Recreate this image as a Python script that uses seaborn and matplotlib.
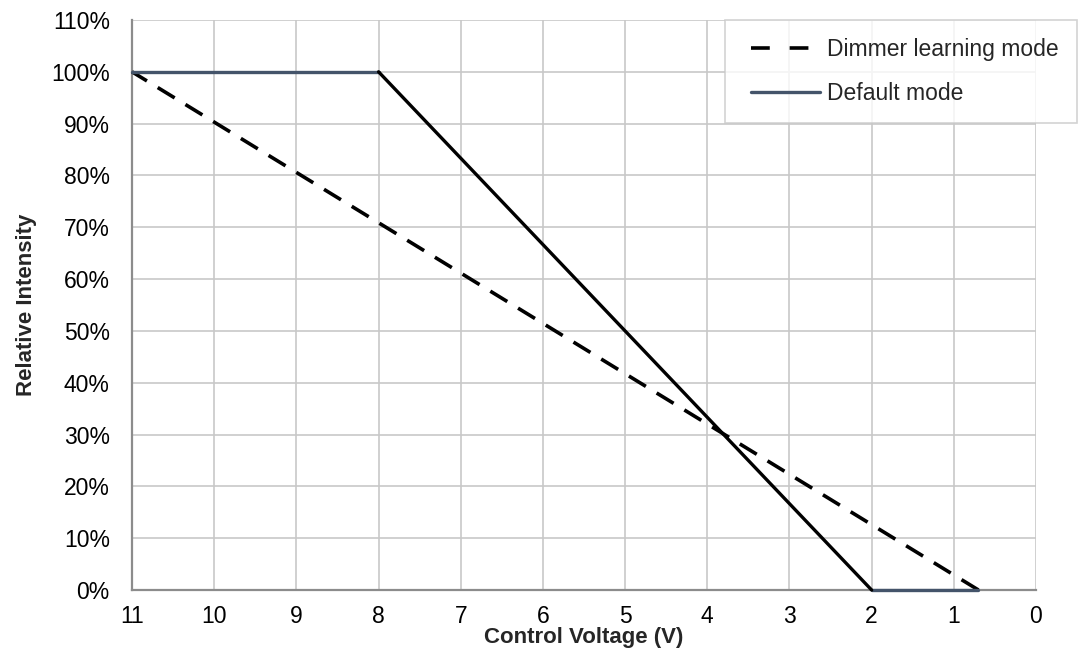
import matplotlib
matplotlib.use("Agg")
import matplotlib.pyplot as plt
import numpy as np
import pandas as pd
import seaborn as sns
from matplotlib.legend_handler import HandlerLine2D
from matplotlib.lines import Line2D
from matplotlib.ticker import FuncFormatter

# data
dimmer_v = [11, 0.7]
dimmer_pct = [100, 0]
default_top_v = [11, 8]
default_top_pct = [100, 100]
default_bottom_v = [2, 0.7]
default_bottom_pct = [0, 0]
ramp_v = [8, 2]
ramp_pct = [100, 0]
x_ticks = list(range(0, 12))
y_ticks = list(range(0, 111, 10))

SLATE = "#44546a"
FS = 16.5
DASH = (5.5, 3.5)

sns.set_style("white")
plt.rcParams["font.family"] = ["Liberation Sans", "DejaVu Sans"]

fig = plt.figure(figsize=(10.83, 6.55), dpi=100)
ax = fig.add_axes([0.1219, 0.0992, 0.8347, 0.8703])

sns.lineplot(x=dimmer_v, y=dimmer_pct, ax=ax, color="black", linewidth=2.6,
             label="Dimmer learning mode")
ax.lines[-1].set_dashes(DASH)
sns.lineplot(x=default_top_v, y=default_top_pct, ax=ax, color=SLATE, linewidth=2.4,
             label="Default mode")
sns.lineplot(x=default_bottom_v, y=default_bottom_pct, ax=ax, color=SLATE, linewidth=2.4)
sns.lineplot(x=ramp_v, y=ramp_pct, ax=ax, color="black", linewidth=2.4)
for line in ax.lines:
    line.set_clip_on(False)
    line.set_zorder(3)

ax.set_xlim(11, 0)
ax.set_ylim(0, 110)
ax.set_xticks(x_ticks)
ax.set_yticks(y_ticks)
ax.yaxis.set_major_formatter(FuncFormatter(lambda v, _: f"{v:.0f}%"))
ax.grid(True, color="#c8c8c8", linewidth=1.2)
ax.set_axisbelow(True)
for side in ["top", "right"]:
    ax.spines[side].set_visible(False)
for side in ["left", "bottom"]:
    ax.spines[side].set_color("#8c8c8c")
    ax.spines[side].set_linewidth(1.6)
ax.tick_params(axis="both", length=5, width=1.2, color="#8c8c8c",
               labelsize=FS, labelcolor="black", direction="out")
ax.tick_params(axis="x", pad=6)
ax.tick_params(axis="y", pad=11)
ax.set_xlabel("Control Voltage (V)", fontsize=16, fontweight="bold", labelpad=-1)
ax.set_ylabel("Relative Intensity", fontsize=16, fontweight="bold", labelpad=10)

leg = ax.legend(loc="upper left", bbox_to_anchor=(725 / 1083, 1 - 20 / 655),
                bbox_transform=fig.transFigure, fontsize=FS, frameon=True,
                fancybox=False, handlelength=3.35, handletextpad=0.3,
                borderpad=0.8, labelspacing=0.9, borderaxespad=0,
                handler_map={Line2D: HandlerLine2D(xpad=0.35)})
leg.get_frame().set_edgecolor("#c8c8c8")
leg.get_frame().set_linewidth(1.2)
leg.get_lines()[0].set_dashes((5.2, 5.5))

fig.savefig("out.png", dpi=100)
